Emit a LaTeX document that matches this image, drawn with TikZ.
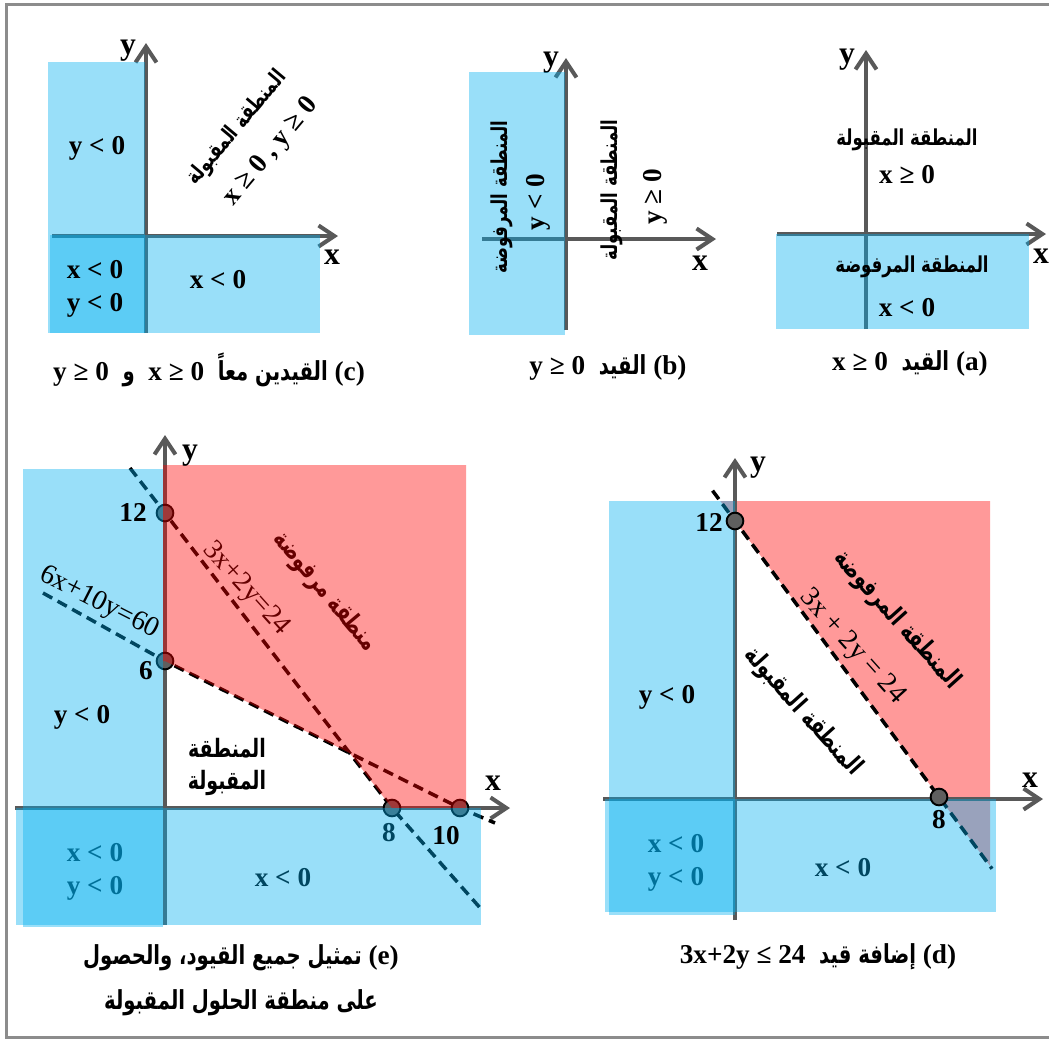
\documentclass[tikz,border=0pt]{standalone}
\usepackage{fontspec}
\setmainfont{Liberation Serif}
\newfontfamily\arabicfont[Script=Arabic,FakeStretch=0.75]{DejaVu Sans}
\TeXXeTstate=1
\usetikzlibrary{arrows.meta,calc}
\definecolor{zoneBlue}{RGB}{0,176,240}
\definecolor{zoneRed}{RGB}{255,0,0}
\definecolor{axisGray}{RGB}{89,89,89}
\definecolor{frameGray}{RGB}{140,140,140}
\definecolor{dotGray}{RGB}{95,95,95}
\newcommand{\artext}[1]{{\arabicfont\bfseries\beginR #1\endR}}
\newcommand{\capartext}[1]{{\fontsize{14.9}{16}\selectfont\artext{#1}}}

\begin{document}
\begin{tikzpicture}[
  x=0.02cm,y=-0.02cm,
  bluezone/.style={fill=zoneBlue,fill opacity=0.4},
  redzone/.style={fill=zoneRed,fill opacity=0.4},
  axis/.style={draw=axisGray,line width=2.3pt,-{Straight Barb[length=9pt,width=12pt]}},
  bound/.style={draw=black,line width=2pt,dash pattern=on 6pt off 3.5pt},
  dot/.style={circle,draw=black,fill=dotGray,line width=1.1pt,inner sep=0pt,minimum size=9.5pt},
  axislabel/.style={font=\fontsize{18}{20}\selectfont\bfseries},
  cond/.style={font=\fontsize{15.5}{18}\selectfont\bfseries},
  eqn/.style={font=\fontsize{16}{18}\selectfont},
  region/.style={font=\fontsize{12.5}{14}\selectfont},
  bigregion/.style={font=\fontsize{14.4}{16}\selectfont},
  caption/.style={font=\fontsize{15.5}{18}\selectfont\bfseries,align=center}
]
  \useasboundingbox (0,0) rectangle (1049,1039);
  \coordinate (frTL) at (6.5,4.5);
  \coordinate (frTR) at (1055,4.5);
  \coordinate (frBL) at (6.5,1037.5);
  \coordinate (frBR) at (1055,1037.5);
  \draw[frameGray,line width=1.8pt] (frTR) -- (frTL) -- (frBL) -- (frBR);

  % (a)
  \coordinate (aXl) at (777,234);
  \coordinate (aXr) at (1046,234);
  \coordinate (aYb) at (866,329);
  \coordinate (aYt) at (866,50);
  \draw[axis] (aXl) -- (aXr);
  \draw[axis] (aYb) -- (aYt);
  \fill[bluezone] (776,234) rectangle (1029,329);
  \node[axislabel] (ay) at (847,60) {y};
  \node[axislabel] (ax) at (1041,256) {x};
  \node[region] (aok) at (907,140) {\artext{المنطقة المقبولة}};
  \node[cond] (aokc) at (907,175) {x ≥ 0};
  \node[region] (ano) at (912,267) {\artext{المنطقة المرفوضة}};
  \node[cond] (anoc) at (907,308) {x < 0};
  \node[caption] (acap) at (910,363) {x ≥ 0\ \ \capartext{القيد}\ (a)};

  % (b)
  \coordinate (bXl) at (482,239);
  \coordinate (bXr) at (716,239);
  \coordinate (bYb) at (566,330);
  \coordinate (bYt) at (566,58);
  \draw[axis] (bXl) -- (bXr);
  \draw[axis] (bYb) -- (bYt);
  \node[axislabel] (by) at (551,63) {y};
  \fill[bluezone] (469,72) rectangle (565,335);
  \node[axislabel] (bx) at (700,263) {x};
  \node[region,rotate=90] (bno) at (502,197) {\artext{المنطقة المرفوضة}};
  \node[cond,rotate=90] (bnoc) at (538,202) {y < 0};
  \node[region,rotate=90] (bok) at (612,190) {\artext{المنطقة المقبولة}};
  \node[cond,rotate=90] (bokc) at (655,197) {y ≥ 0};
  \node[caption] (bcap) at (608,367) {y ≥ 0\ \ \capartext{القيد}\ (b)};

  % (c)
  \coordinate (cXl) at (52,236);
  \coordinate (cXr) at (338,236);
  \coordinate (cYb) at (146,333);
  \coordinate (cYt) at (146,43);
  \draw[axis] (cXl) -- (cXr);
  \draw[axis] (cYb) -- (cYt);
  \fill[bluezone] (48,62) rectangle (145,333);
  \fill[bluezone] (50,235) rectangle (320,333);
  \node[axislabel] (cy) at (128,51) {y};
  \node[axislabel] (cx) at (332,257) {x};
  \node[cond] (cleft) at (97,148) {y < 0};
  \node[cond] (cboth1) at (95,270) {x < 0};
  \node[cond] (cboth2) at (95,305) {y < 0};
  \node[cond] (cbot) at (218,280) {x < 0};
  \node[region,rotate=50] (cok) at (237,128) {\artext{المنطقة المقبولة}};
  \node[cond,rotate=50] (cokc) at (271,152) {x ≥ 0 , y ≥ 0};
  \node[caption] (ccap) at (209,370) {y ≥ 0\ \ \capartext{و}\ \ x ≥ 0\ \ \capartext{القيدين معاً}\ (c)};

  % (e)
  \coordinate (eXl) at (15,808);
  \coordinate (eXr) at (510,808);
  \coordinate (eYb) at (165,925);
  \coordinate (eYt) at (165,435);
  \coordinate (c12) at (165,513);
  \coordinate (c6) at (165,661);
  \coordinate (c8) at (392,808);
  \coordinate (c10) at (460,808);
  \coordinate (eB0) at (130,468);
  \coordinate (eB1) at (482,910);
  \coordinate (eA0) at (43,593);
  \coordinate (eA1) at (495,823);
  \coordinate (eQ) at (intersection of c6--c10 and c12--c8);
  \draw[axis] (eXl) -- (eXr);
  \draw[axis] (eYb) -- (eYt);
  \draw[bound] (eB0) -- (c12) -- (c8) -- (eB1);
  \draw[bound] (eA0) -- (c6) -- (c10) -- (eA1);
  \node[dot] (eP12) at (c12) {};
  \node[dot] (eP6) at (c6) {};
  \node[dot] (eP8) at (c8) {};
  \node[dot] (eP10) at (c10) {};
  \node[eqn,rotate=-48] (eqB) at (246,589) {3x+2y=24};
  \node[bigregion,rotate=-50] (eno) at (325,592) {\artext{منطقة مرفوضة}};
  \node[cond] (e8) at (389,833) {8};
  \node[cond] (ebot) at (283,878) {x < 0};
  \node[cond] (eboth1) at (95,853) {x < 0};
  \node[cond] (eboth2) at (95,888) {y < 0};
  \fill[redzone] (163,465) -- (466,465) -- (466,808) -- (c8) -- (eQ) -- (c6) -- (163,661) -- cycle;
  \fill[bluezone] (23,469) rectangle (163,927);
  \fill[bluezone] (16,808) rectangle (481,925);
  \node[cond] (e12) at (133,512) {12};
  \node[cond] (e6) at (146,671) {6};
  \node[cond] (e10) at (446,836) {10};
  \node[cond] (eleft) at (82,717) {y < 0};
  \node[eqn,rotate=-27] (eqA) at (99,603) {6x+10y=60};
  \node[bigregion] (eok1) at (227,748) {\artext{المنطقة}};
  \node[bigregion] (eok2) at (227,783) {\artext{المقبولة}};
  \node[axislabel] (ey) at (190,456) {y};
  \node[axislabel] (ex) at (493,783) {x};
  \node[caption,font=\fontsize{15.5}{25.5}\selectfont\bfseries] (ecap) at (241,980)
    {\capartext{تمثيل جميع القيود، والحصول}\ (e)\\ \capartext{على منطقة الحلول المقبولة}};

  % (d)
  \coordinate (dXl) at (603,799);
  \coordinate (dXr) at (1043,799);
  \coordinate (dYb) at (735,920);
  \coordinate (dYt) at (735,458);
  \coordinate (d12) at (735,521);
  \coordinate (d8) at (939,797);
  \fill[redzone] ($(d12)!-0.0725!(d8)$) -- (990,501) -- ($(d12)!1.25!(d8)$) -- cycle;
  \draw[axis] (dXl) -- (dXr);
  \draw[axis] (dYb) -- (dYt);
  \draw[bound] ($(d12)!-0.11!(d8)$) -- (d12) -- (d8) -- ($(d12)!1.26!(d8)$);
  \node[cond] (dboth1) at (676,844) {x < 0};
  \node[cond] (dboth2) at (676,879) {y < 0};
  \node[cond] (dbot) at (843,868) {x < 0};
  \fill[bluezone] (609,501) rectangle (735,915);
  \fill[bluezone] (605,799) rectangle (996,912);
  \node[dot] (dP12) at (d12) {};
  \node[dot] (dP8) at (d8) {};
  \node[cond] (d12l) at (709,522) {12};
  \node[cond] (d8l) at (939,820) {8};
  \node[cond] (dleft) at (667,697) {y < 0};
  \node[bigregion,rotate=-48] (dno) at (897,620) {\artext{المنطقة المرفوضة}};
  \node[eqn,rotate=-48] (deq) at (852,647) {3x + 2y = 24};
  \node[bigregion,rotate=-48] (dok) at (803,712) {\artext{المنطقة المقبولة}};
  \node[axislabel] (dy) at (758,468) {y};
  \node[axislabel] (dx) at (1030,780) {x};
  \node[caption] (dcap) at (818,957) {3x+2y ≤ 24\ \ \capartext{إضافة قيد}\ (d)};
\end{tikzpicture}
\end{document}
